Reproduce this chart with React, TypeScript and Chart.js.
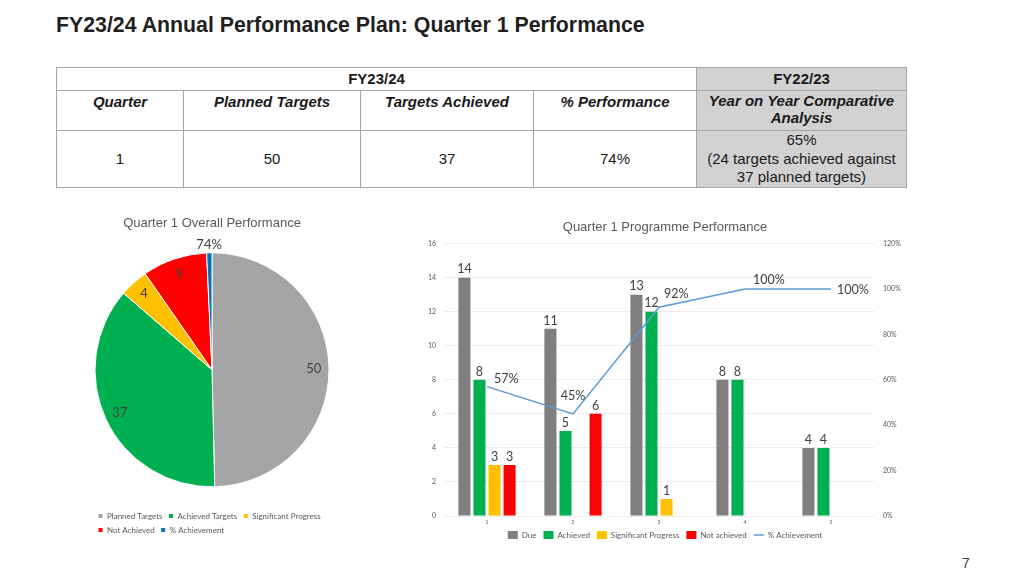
import React, { useEffect, useRef } from "react";
import { Chart, registerables } from "chart.js";

Chart.register(...registerables);

// ---------- Data ----------
const PIE_LABELS = ["Planned Targets", "Achieved Targets", "Significant Progress", "Not Achieved", "% Achievement"];
const PIE_VALUES = [50, 37, 4, 9, 0.74];
const PIE_DISPLAY = ["50", "37", "4", "9", "74%"];
const PIE_COLORS = ["#a5a5a5", "#00b050", "#ffc000", "#ff0000", "#0070c0"];

const CATEGORIES = ["1", "2", "3", "4", "5"];
const DUE = [14, 11, 13, 8, 4];
const ACHIEVED = [8, 5, 12, 8, 4];
const SIGNIFICANT = [3, null, 1, null, null];
const NOT_ACHIEVED = [3, 6, null, null, null];
const PCT_ACHIEVEMENT = [0.57, 0.45, 0.92, 1.0, 1.0];

const TABLE_HEAD = ["Quarter", "Planned Targets", "Targets Achieved", "% Performance"];
const TABLE_ROW = ["1", "50", "37", "74%"];
const COMPARATIVE = ["65%", "(24 targets achieved against", "37 planned targets)"];

const CALIBRI = "Lato, 'Open Sans', sans-serif";
const ARIAL = "'Liberation Sans', Arial, sans-serif";

// ---------- Plugins ----------
const pieLabelPlugin = {
  id: "pieLabels",
  afterDatasetsDraw(chart: any) {
    const ctx = chart.ctx;
    const meta = chart.getDatasetMeta(0);
    ctx.save();
    ctx.font = `13px ${CALIBRI}`;
    ctx.fillStyle = "#404040";
    ctx.textAlign = "center";
    ctx.textBaseline = "middle";
    meta.data.forEach((arc: any, i: number) => {
      const p = arc.getProps(["x", "y", "startAngle", "endAngle", "outerRadius"], true);
      const mid = (p.startAngle + p.endAngle) / 2;
      const outside = PIE_VALUES[i] < 2;
      const r = outside ? p.outerRadius + 8 : p.outerRadius * 0.87;
      ctx.fillText(PIE_DISPLAY[i], p.x + Math.cos(mid) * r, p.y + Math.sin(mid) * r);
    });
    ctx.restore();
  },
};

const LINE_LABEL_PLACE: [number, number, CanvasTextAlign][] = [
  [7, -8, "left"],
  [0, -18, "center"],
  [5, -13, "left"],
  [8, -9, "left"],
  [6, 1, "left"],
];

const barLabelPlugin = {
  id: "barLabels",
  afterDatasetsDraw(chart: any) {
    const ctx = chart.ctx;
    ctx.save();
    ctx.font = `12.5px ${CALIBRI}`;
    ctx.fillStyle = "#404040";
    chart.data.datasets.forEach((ds: any, di: number) => {
      const meta = chart.getDatasetMeta(di);
      meta.data.forEach((el: any, i: number) => {
        const v = ds.data[i];
        if (v == null) return;
        if (ds.type === "bar") {
          ctx.textAlign = "center";
          ctx.textBaseline = "bottom";
          ctx.fillText(String(v), el.x, el.y - 2);
        } else {
          const [dx, dy, al] = LINE_LABEL_PLACE[i];
          ctx.textAlign = al;
          ctx.textBaseline = "middle";
          ctx.fillText(Math.round(v * 100) + "%", el.x + dx, el.y + dy);
        }
      });
    });
    ctx.restore();
  },
};

// ---------- Charts ----------
function PieChart() {
  const ref = useRef<HTMLCanvasElement>(null);
  useEffect(() => {
    const chart = new Chart(ref.current!, {
      type: "pie",
      data: {
        labels: PIE_LABELS,
        datasets: [
          {
            data: PIE_VALUES,
            backgroundColor: PIE_COLORS,
            borderColor: "#ffffff",
            borderWidth: 1,
            radius: 117,
          } as any,
        ],
      },
      options: {
        responsive: false,
        animation: false,
        layout: { padding: { left: 12, right: 13, top: 0, bottom: 1 } },
        plugins: {
          title: {
            display: true,
            text: "Quarter 1 Overall Performance",
            color: "#595959",
            font: { family: ARIAL, size: 13, weight: "normal" },
            padding: { top: 11, bottom: 2 },
          },
          legend: {
            position: "bottom",
            align: "start",
            labels: {
              boxWidth: 5,
              boxHeight: 5,
              padding: 6,
              color: "#595959",
              font: { family: CALIBRI, size: 8 },
            },
          },
          tooltip: { enabled: false },
        },
      } as any,
      plugins: [pieLabelPlugin],
    });
    return () => chart.destroy();
  }, []);
  return (
    <canvas
      ref={ref}
      width={265}
      height={340}
      style={{ position: "absolute", left: 80, top: 205, width: 265, height: 340 }}
    />
  );
}

function BarChart() {
  const ref = useRef<HTMLCanvasElement>(null);
  useEffect(() => {
    const chart = new Chart(ref.current!, {
      data: {
        labels: CATEGORIES,
        datasets: [
          { type: "bar", label: "Due", data: DUE, backgroundColor: "#7f7f7f", yAxisID: "y", order: 1, pointStyle: "rect" },
          { type: "bar", label: "Achieved", data: ACHIEVED, backgroundColor: "#00b050", yAxisID: "y", order: 1, pointStyle: "rect" },
          { type: "bar", label: "Significant Progress", data: SIGNIFICANT, backgroundColor: "#ffc000", yAxisID: "y", order: 1, pointStyle: "rect" },
          { type: "bar", label: "Not achieved", data: NOT_ACHIEVED, backgroundColor: "#ff0000", yAxisID: "y", order: 1, pointStyle: "rect" },
          {
            type: "line",
            label: "% Achievement",
            data: PCT_ACHIEVEMENT,
            borderColor: "#5b9bd5",
            backgroundColor: "#5b9bd5",
            borderWidth: 1.5,
            pointRadius: 0,
            tension: 0,
            yAxisID: "y1",
            order: 0,
            pointStyle: "line",
          },
        ] as any,
      },
      options: {
        responsive: false,
        animation: false,
        layout: { padding: 0 },
        datasets: { bar: { categoryPercentage: 0.7, barPercentage: 0.8 } },
        scales: {
          x: {
            grid: { display: false, drawTicks: false },
            border: { display: false },
            ticks: { color: "#595959", font: { family: CALIBRI, size: 5 }, padding: 3 },
            afterFit: (s: any) => { s.height = 8; },
          },
          y: {
            position: "left",
            min: 0,
            max: 16,
            ticks: { stepSize: 2, color: "#595959", font: { family: CALIBRI, size: 7 }, padding: 8 },
            grid: { color: "#ececec", drawTicks: false },
            border: { display: false },
            afterFit: (s: any) => { s.width = 39; },
          },
          y1: {
            position: "right",
            min: 0,
            max: 1.2,
            ticks: {
              stepSize: 0.2,
              color: "#595959",
              font: { family: CALIBRI, size: 7 },
              padding: 9,
              callback: (v: any) => Math.round(Number(v) * 100) + "%",
            },
            grid: { display: false, drawTicks: false },
            border: { display: false },
            afterFit: (s: any) => { s.width = 51; },
          },
        },
        plugins: {
          title: {
            display: true,
            text: "Quarter 1 Programme Performance",
            color: "#595959",
            font: { family: ARIAL, size: 13, weight: "normal" },
            padding: { top: 8, bottom: 8 },
          },
          legend: {
            position: "bottom",
            labels: {
              usePointStyle: true,
              pointStyleWidth: 10,
              boxHeight: 8,
              padding: 7,
              color: "#595959",
              font: { family: CALIBRI, size: 8 },
              sort: (a: any, b: any) => a.datasetIndex - b.datasetIndex,
            },
          },
          tooltip: { enabled: false },
        },
      } as any,
      plugins: [barLabelPlugin],
    });
    return () => chart.destroy();
  }, []);
  return (
    <canvas
      ref={ref}
      width={520}
      height={337}
      style={{ position: "absolute", left: 405, top: 212, width: 520, height: 337 }}
    />
  );
}

// ---------- Table ----------
const COLS = [56, 183, 360, 533, 696, 907];
const ROWS = [67, 90, 130, 188];
const BORDER = "1px solid #a6a6a6";

function Cell(props: {
  c0: number; c1: number; r: number; grey?: boolean; valign?: "top" | "middle";
  bold?: boolean; italic?: boolean; lines: string[]; lh?: number; pt?: number;
}) {
  const { c0, c1, r, grey, valign = "middle", bold, italic, lines, lh = 18, pt = 0 } = props;
  const left = COLS[c0];
  const width = COLS[c1] - COLS[c0];
  const top = ROWS[r];
  const height = ROWS[r + 1] - ROWS[r];
  return (
    <div
      style={{
        position: "absolute",
        left,
        top,
        width,
        height,
        boxSizing: "border-box",
        borderLeft: BORDER,
        borderTop: BORDER,
        borderRight: c1 === COLS.length - 1 ? BORDER : undefined,
        borderBottom: r === ROWS.length - 2 ? BORDER : undefined,
        background: grey ? "#d2d2d2" : "#ffffff",
        display: "flex",
        flexDirection: "column",
        justifyContent: valign === "top" ? "flex-start" : "center",
        alignItems: "center",
        paddingTop: pt,
        fontFamily: ARIAL,
        fontSize: 15,
        lineHeight: lh + "px",
        fontWeight: bold ? 700 : 400,
        fontStyle: italic ? "italic" : "normal",
        color: "#1a1a1a",
        textAlign: "center",
      }}
    >
      {lines.map((t, i) => (
        <div key={i}>{t}</div>
      ))}
    </div>
  );
}

export default function App() {
  return (
    <div
      style={{
        position: "absolute",
        left: 0,
        top: 0,
        width: 1024,
        height: 576,
        background: "#ffffff",
        overflow: "hidden",
      }}
    >
      <div
        style={{
          position: "absolute",
          left: 56,
          top: 13,
          fontFamily: ARIAL,
          fontWeight: 700,
          fontSize: 21.3,
          lineHeight: "24px",
          color: "#1f1f1f",
          whiteSpace: "nowrap",
        }}
      >
        FY23/24 Annual Performance Plan: Quarter 1 Performance
      </div>

      <Cell c0={0} c1={4} r={0} bold lines={["FY23/24"]} />
      <Cell c0={4} c1={5} r={0} bold grey lines={["FY22/23"]} />
      {TABLE_HEAD.map((t, i) => (
        <Cell key={t} c0={i} c1={i + 1} r={1} bold italic valign="top" pt={2} lines={[t]} />
      ))}
      <Cell c0={4} c1={5} r={1} bold italic grey valign="top" pt={1} lh={17} lines={["Year on Year Comparative", "Analysis"]} />
      {TABLE_ROW.map((t, i) => (
        <Cell key={i} c0={i} c1={i + 1} r={2} lines={[t]} />
      ))}
      <Cell c0={4} c1={5} r={2} grey lh={18.5} lines={COMPARATIVE} />

      <PieChart />
      <BarChart />

      <div
        style={{
          position: "absolute",
          left: 958,
          top: 554,
          width: 16,
          textAlign: "center",
          fontFamily: ARIAL,
          fontSize: 14,
          lineHeight: "18px",
          color: "#404040",
        }}
      >
        7
      </div>
    </div>
  );
}
